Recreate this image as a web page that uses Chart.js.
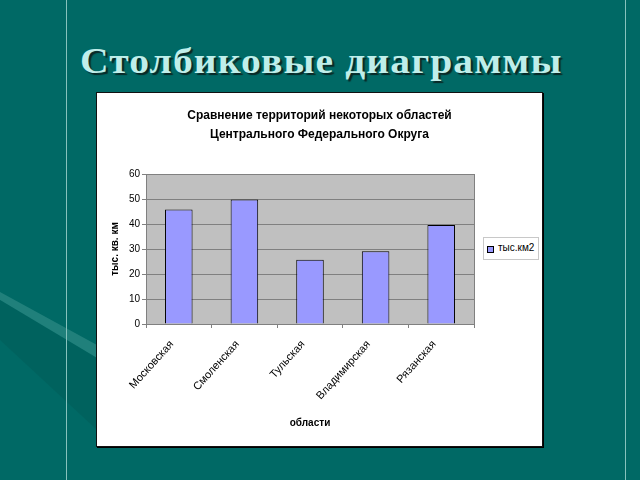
<!DOCTYPE html>
<html><head><meta charset="utf-8">
<script src="https://cdn.jsdelivr.net/npm/chart.js@4.4.1/dist/chart.umd.min.js"></script>
<style>
html,body{margin:0;padding:0;width:640px;height:480px;overflow:hidden;background:#006965;}
#bg{position:absolute;left:0;top:0;}
.vl{position:absolute;top:0;width:1px;height:480px;background:#86c2bd;}
#slideTitle{position:absolute;left:80px;top:40px;font-family:"Liberation Serif",serif;font-weight:bold;font-size:36px;color:#bfeeea;text-shadow:2px 2px 1px #0a2826;letter-spacing:1px;white-space:nowrap;transform:scaleX(1.1);transform-origin:0 0;}
#box{position:absolute;left:96px;top:92px;width:445px;height:353px;background:#fff;border:1px solid #111;box-shadow:1px 1px 0 #000;}
#cv{position:absolute;left:97px;top:93px;}
#ctitle{position:absolute;left:97px;top:106px;width:445px;text-align:center;font-family:"Liberation Sans",sans-serif;font-weight:bold;font-size:12px;line-height:19px;color:#000;}
#legend{position:absolute;left:483px;top:237px;width:54px;height:21px;border:1px solid #c8c8c8;background:#fff;font-family:"Liberation Sans",sans-serif;font-size:10px;color:#000;}
#legend .sw{position:absolute;left:3px;top:8px;width:5px;height:5px;border:1px solid #000;}
#legend .tx{position:absolute;left:14px;top:4px;white-space:nowrap;}
</style></head>
<body>
<svg id="bg" width="640" height="480">
  <polygon points="0,292 97,345 97,358 0,300" fill="#2e8a84" opacity="0.7"/>
  <polygon points="0,300 97,358 97,430 0,340" fill="#005c58" opacity="0.5"/>
</svg>
<div class="vl" style="left:66px"></div>
<div class="vl" style="left:625px"></div>
<div id="slideTitle">Столбиковые диаграммы</div>
<div id="box"></div>
<canvas id="cv" width="445" height="353"></canvas>
<div id="ctitle"></div>
<div id="legend"><div class="sw"></div><div class="tx"></div></div>
<script>
const categories = ["Московская", "Смоленская", "Тульская", "Владимирская", "Рязанская"];
const areaValues = [45.8, 49.8, 25.7, 29.1, 39.6];
const seriesLabel = "тыс.км2";
const yTickValues = [0, 10, 20, 30, 40, 50, 60];
const chartTitleLines = ["Сравнение территорий некоторых областей", "Центрального Федерального Округа"];
const xAxisTitle = "области";
const yAxisTitle = "тыс. кв. км";

document.getElementById('ctitle').innerHTML = chartTitleLines.join('<br>');

const plotBg = {
  id: 'plotBg',
  beforeDraw(c) {
    const {ctx, chartArea: a} = c;
    ctx.save();
    ctx.fillStyle = '#c0c0c0';
    ctx.fillRect(a.left, a.top, a.right - a.left, a.bottom - a.top);
    ctx.restore();
  },
  beforeDatasetsDraw(c) {
    const {ctx, chartArea: a} = c;
    ctx.save();
    ctx.strokeStyle = '#808080';
    ctx.lineWidth = 1;
    ctx.strokeRect(Math.round(a.left) + 0.5, Math.round(a.top) + 0.5, Math.round(a.right - a.left), Math.round(a.bottom - a.top));
    ctx.restore();
  }
};

Chart.defaults.font.family = '"Liberation Sans", sans-serif';
Chart.defaults.color = '#000';

const chart = new Chart(document.getElementById('cv'), {
  type: 'bar',
  data: {
    labels: categories,
    datasets: [{
      label: seriesLabel,
      data: areaValues,
      backgroundColor: '#9999ff',
      borderColor: '#000',
      borderWidth: 1,
      barPercentage: 0.42,
      categoryPercentage: 1
    }]
  },
  options: {
    responsive: false,
    animation: false,
    devicePixelRatio: 1,
    layout: {padding: {left: 0, top: 81, right: 68, bottom: 0}},
    plugins: {legend: {display: false}, title: {display: false}, tooltip: {enabled: false}},
    scales: {
      x: {
        grid: {offset: true, drawOnChartArea: false, color: '#808080', tickLength: 4},
        border: {color: '#808080'},
        ticks: {minRotation: 48, maxRotation: 48, autoSkip: false, font: {size: 11}, color: '#000', padding: 10, labelOffset: -7},
        title: {display: true, text: xAxisTitle, font: {size: 10, weight: 'bold'}, color: '#000', padding: {top: 0, bottom: 17}},
        afterFit(s) { s.height = 122; }
      },
      y: {
        min: 0, max: 60,
        afterBuildTicks(s) { s.ticks = yTickValues.map(v => ({value: v})); },
        grid: {color: '#808080', tickLength: 4},
        border: {color: '#808080'},
        ticks: {font: {size: 10}, color: '#000', padding: 2},
        title: {display: true, text: yAxisTitle, font: {size: 10, weight: 'bold'}, color: '#000', padding: {top: 12, bottom: 0}},
        afterFit(s) { s.width = 49; }
      }
    }
  },
  plugins: [plotBg]
});

const ds = chart.data.datasets[0];
document.querySelector('#legend .sw').style.background = ds.backgroundColor;
document.querySelector('#legend .tx').textContent = ds.label;
</script>
</body></html>
